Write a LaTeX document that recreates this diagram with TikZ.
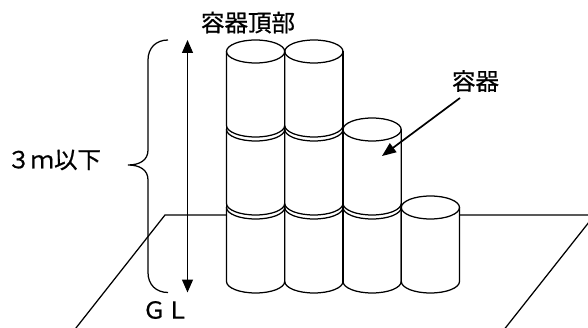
\documentclass[tikz,border=0pt]{standalone}
\usepackage{fontspec}
\newfontfamily\jpfont[FakeBold=0.6]{Noto Sans CJK JP}
\usetikzlibrary{arrows.meta}

% one drum: centre x, level of the top ellipse, level of the bottom ellipse
\newcommand\drum[3]{%
  \path[fill=white] (#1-29.1,#2) -- (#1-29.1,#3)
    arc[start angle=180,end angle=360,x radius=29.1pt,y radius=11.5pt]
    -- (#1+29.1,#2)
    arc[start angle=0,end angle=180,x radius=29.1pt,y radius=11.5pt] -- cycle;
  \draw (#1,#2) ellipse[x radius=29.1pt,y radius=11.5pt];
  \draw (#1-29.1,#2) -- (#1-29.1,#3)
    arc[start angle=180,end angle=360,x radius=29.1pt,y radius=11.5pt]
    -- (#1+29.1,#2);
}

\begin{document}
\begin{tikzpicture}[x=1pt,y=-1pt,line width=1.25pt,
  lbl/.style={font=\jpfont\fontsize{23.5}{26}\selectfont,inner sep=0pt},
  dimarrow/.style={{Triangle[length=13pt,width=11pt]}-{Triangle[length=13pt,width=11pt]}},
  ptr/.style={line width=1.7pt,-{Triangle[length=14pt,width=11pt]}}]
\useasboundingbox (0,0) rectangle (588,328);
\clip (0,0) rectangle (588,328);

% ground plane
\coordinate (gtl) at (165,215);
\coordinate (gtr) at (594.6,215);
\draw (76,328) ++(-0.79*20,20) -- (gtl) -- (gtr) -- ++(-0.79*140,140);

% bottom row
\drum{255.6}{207.5}{281.5}
\drum{313.9}{207.5}{281.5}
\drum{372.1}{207.5}{281.5}
\drum{430.4}{207.5}{281.5}
% middle row
\drum{255.6}{129.5}{203.5}
\drum{313.9}{129.5}{203.5}
\drum{372.1}{129.5}{203.5}
% top row
\drum{255.6}{51.5}{125.5}
\drum{313.9}{51.5}{125.5}

% continuous column edges
\draw (226.5,51.5) -- (226.5,281.5);
\draw (284.75,51.5) -- (284.75,281.5);
\draw (343,51.5) -- (343,281.5);
\draw (401.2,129.5) -- (401.2,281.5);
\draw (459.5,207.5) -- (459.5,281.5);

% height dimension
\coordinate (htop) at (187.5,40);
\coordinate (hbot) at (187.5,292.5);
\draw[dimarrow] (hbot) -- (htop);

% brace
\draw (168,40) .. controls (156,40) and (148,48) .. (148,60)
  -- (148,150) .. controls (148,160) and (140,165) .. (128,165)
  .. controls (140,165) and (148,170) .. (148,180)
  -- (148,272.5) .. controls (148,284.5) and (156,292.5) .. (168,292.5);

% labels
\node[lbl] (ttop) at (248,22.5) {容器頂部};
\node[lbl] (tcont) at (475.5,81) {容器};
\node[lbl] (theight) at (54,160) {３ｍ以下};
\node[lbl] (tgl) at (166,310) {ＧＬ};

% pointer to a drum
\coordinate (pstart) at (460,98);
\coordinate (pend) at (382,156);
\draw[ptr] (pstart) -- (pend);
\end{tikzpicture}
\end{document}
